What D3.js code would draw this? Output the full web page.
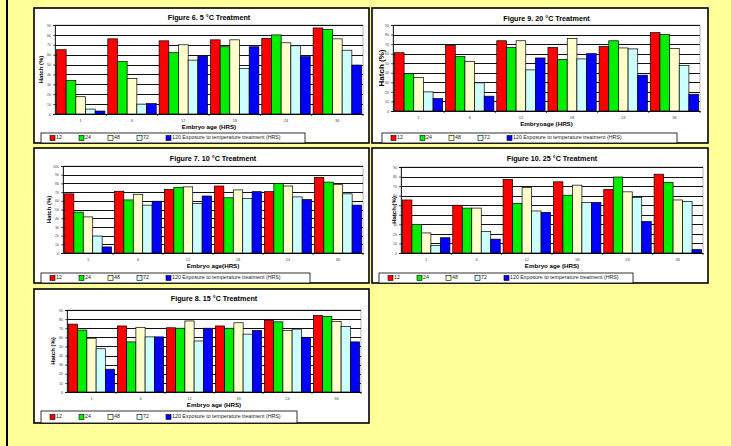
<!DOCTYPE html>
<html>
<head>
<meta charset="utf-8">
<script src="https://cdn.jsdelivr.net/npm/d3@7"></script>
<style>
  html, body { margin: 0; padding: 0; background: #FFFF99; }
  svg { display: block; font-family: "Liberation Sans", Arial, sans-serif; }
</style>
</head>
<body>
<svg id="chart" width="731" height="446"></svg>
<script>
// Embryo age groups (hours) and exposure durations (hours)
const categories = ["1", "6", "12", "18", "24", "36"];
const exposures = ["12", "24", "48", "72", "120"];
const legendLabels = ["12", "24", "48", "72", "120 Exposure to temperature treatment (HRS)"];
const seriesColors = ["#FF0000", "#00EE00", "#FFFFCC", "#CCFFFF", "#0000FF"];

// Hatch (%) per exposure series, one value per embryo age
const fig6Values = [
  [65, 76, 74, 75, 76.5, 87],
  [34, 53, 62, 68, 80, 85.5],
  [17.5, 36, 70, 75, 72, 76],
  [5, 10, 54.5, 46, 69, 64.5],
  [3, 10.5, 58.5, 68, 58, 49.5]
];
const fig7Values = [
  [68, 71, 73, 77, 70.5, 87],
  [47, 61, 75.5, 63.5, 80, 81.5],
  [41.5, 67.5, 76, 72.5, 77, 78.5],
  [19.5, 55, 57, 62.5, 64.5, 68],
  [7, 59.5, 65.5, 70.5, 61.5, 55]
];
const fig8Values = [
  [74.5, 72.5, 70.5, 72.5, 78.5, 84],
  [68, 55, 70, 70, 77, 83],
  [59, 71, 78, 76, 67.5, 77.5],
  [47.5, 60.5, 56, 63.5, 69, 72],
  [25, 60.5, 70, 67.5, 60, 55]
];
const fig9Values = [
  [61, 68.5, 73.5, 66.5, 67.5, 82],
  [39, 57, 66.5, 54, 73.5, 80],
  [35, 52, 73.5, 76, 66, 65.5],
  [20, 29.5, 43, 54.5, 65, 47.5],
  [13, 15.5, 55.5, 60, 37.5, 17.5]
];
const fig10Values = [
  [55.5, 50, 77, 74.5, 66.5, 82.5],
  [30, 47, 52, 60.5, 79.5, 74],
  [21, 47, 68.5, 71, 64, 55.5],
  [8, 22.5, 44, 53, 58, 54],
  [16, 14.5, 42.5, 53, 33, 3.5]
];

const yTicks90 = d3.range(0, 91, 10);
const yTicks100 = d3.range(0, 101, 10);

// Panel layout: outer box [x, y, w, h] and plot area [left, top, right, bottom]
const panels = [
  { title: "Figure 6.   5 °C  Treatment", values: fig6Values, ticks: yTicks90,
    box: [34, 8, 335, 135], plot: [55, 25, 363, 114], titleY: 20, yLabelX: 41,
    yLabelSize: 6, xLabel: "Embryo age (HRS)", legend: [41, 133, 264] },
  { title: "Figure 9.  20 °C Treatment", values: fig9Values, ticks: yTicks90,
    box: [372, 8, 336, 135], plot: [393, 25, 700, 111], titleY: 21, yLabelX: 382,
    yLabelSize: 8, xLabel: "Embryoage (HRS)", legend: [382, 133, 295] },
  { title: "Figure 7.  10 °C Treatment", values: fig7Values, ticks: yTicks100,
    box: [34, 148, 335, 135], plot: [63, 166, 363, 253], titleY: 161, yLabelX: 49,
    yLabelSize: 6, xLabel: "Embryo age(HRS)", legend: [41, 273, 269] },
  { title: "Figure 10.  25 °C Treatment", values: fig10Values, ticks: yTicks90,
    box: [372, 148, 336, 135], plot: [401, 167, 703, 253], titleY: 161, yLabelX: 394,
    yLabelSize: 6, xLabel: "Embryo age (HRS)", legend: [379, 273, 254] },
  { title: "Figure 8.  15 °C Treatment", values: fig8Values, ticks: yTicks90,
    box: [34, 289, 335, 134], plot: [67, 310, 361, 392], titleY: 301, yLabelX: 53,
    yLabelSize: 6, xLabel: "Embryo age (HRS)", legend: [41, 411, 256] }
];

const svg = d3.select("#chart");

// Page frame line on the left
svg.append("line")
  .attr("x1", 7).attr("x2", 7).attr("y1", 0).attr("y2", 446)
  .attr("stroke", "#000").attr("stroke-width", 2);

panels.forEach(p => {
  const g = svg.append("g");
  const [bx, by, bw, bh] = p.box;
  const [pl, pt, pr, pb] = p.plot;

  g.append("rect")
    .attr("x", bx).attr("y", by).attr("width", bw).attr("height", bh)
    .attr("fill", "#fff").attr("stroke", "#000").attr("stroke-width", 1.6);

  const x0 = d3.scaleBand().domain(categories).range([pl, pr]).paddingInner(0).paddingOuter(0);
  const x1 = d3.scaleBand().domain(exposures).range([0, x0.bandwidth()])
    .paddingInner(0).paddingOuter(0.15);
  const yMax = d3.max(p.ticks);
  const y = d3.scaleLinear().domain([0, yMax]).range([pb, pt]);

  // plot area frame
  g.append("rect")
    .attr("x", pl).attr("y", pt).attr("width", pr - pl).attr("height", pb - pt)
    .attr("fill", "#fff").attr("stroke", "#888").attr("stroke-width", 0.6);

  // gridlines
  g.append("g").selectAll("line").data(p.ticks.filter(t => t > 0)).join("line")
    .attr("x1", pl).attr("x2", pr)
    .attr("y1", d => Math.round(y(d)) + 0.5).attr("y2", d => Math.round(y(d)) + 0.5)
    .attr("stroke", "#111").attr("stroke-width", 1);

  // bars
  const groups = g.append("g").selectAll("g").data(categories).join("g")
    .attr("transform", d => `translate(${x0(d)},0)`);
  groups.selectAll("rect")
    .data((c, ci) => exposures.map((e, si) => ({ e, si, v: p.values[si][ci] })))
    .join("rect")
    .attr("x", d => x1(d.e))
    .attr("y", d => y(d.v))
    .attr("width", x1.bandwidth())
    .attr("height", d => y(0) - y(d.v))
    .attr("fill", d => seriesColors[d.si])
    .attr("stroke", "#000").attr("stroke-width", 0.7);

  // y axis
  const yAxis = g.append("g").attr("transform", `translate(${pl},0)`)
    .call(d3.axisLeft(y).tickValues(p.ticks).tickSize(2).tickPadding(2).tickFormat(d3.format("d")));
  yAxis.select(".domain").attr("stroke", "#000").attr("stroke-width", 0.8);
  yAxis.selectAll("line").attr("stroke", "#000").attr("stroke-width", 0.6);
  yAxis.selectAll("text").attr("font-size", 3.6).attr("fill", "#444");

  // x axis
  const xAxis = g.append("g").attr("transform", `translate(0,${pb})`)
    .call(d3.axisBottom(x0).tickSize(0).tickPadding(5));
  xAxis.select(".domain").attr("stroke", "#000").attr("stroke-width", 1);
  xAxis.selectAll("text").attr("font-size", 4).attr("fill", "#444");
  // category separator ticks
  g.append("g").selectAll("line").data(categories.slice(1).concat(["end"])).join("line")
    .attr("x1", d => d === "end" ? pr : x0(d)).attr("x2", d => d === "end" ? pr : x0(d))
    .attr("y1", pb).attr("y2", pb + 2)
    .attr("stroke", "#000").attr("stroke-width", 0.7);

  // titles
  g.append("text")
    .attr("x", (pl + pr) / 2).attr("y", p.titleY)
    .attr("text-anchor", "middle").attr("font-size", 7.2).attr("font-weight", "bold")
    .text(p.title);
  g.append("text")
    .attr("x", (pl + pr) / 2).attr("y", pb + 15)
    .attr("text-anchor", "middle").attr("font-size", 6.2).attr("font-weight", "bold")
    .text(p.xLabel);
  g.append("text")
    .attr("transform", `translate(${p.yLabelX},${(pt + pb) / 2}) rotate(-90)`)
    .attr("text-anchor", "middle").attr("dominant-baseline", "middle")
    .attr("font-size", p.yLabelSize).attr("font-weight", "bold")
    .text("Hatch (%)");

  // legend
  const [lx, ly, lw] = p.legend;
  const lh = by + bh - ly;
  g.append("rect")
    .attr("x", lx).attr("y", ly).attr("width", lw).attr("height", lh)
    .attr("fill", "#fff").attr("stroke", "#000").attr("stroke-width", 0.8);
  const items = g.append("g").selectAll("g").data(legendLabels).join("g")
    .attr("transform", (d, i) => `translate(${lx + 9 + i * 29},${ly + lh / 2})`);
  items.append("rect")
    .attr("x", 0).attr("y", -2.5).attr("width", 5).attr("height", 5)
    .attr("fill", (d, i) => seriesColors[i]).attr("stroke", "#000").attr("stroke-width", 0.6);
  items.append("text")
    .attr("x", 6).attr("y", 0).attr("dominant-baseline", "middle")
    .attr("font-size", 5.3).attr("fill", "#222")
    .text(d => d);
});
</script>
</body>
</html>
